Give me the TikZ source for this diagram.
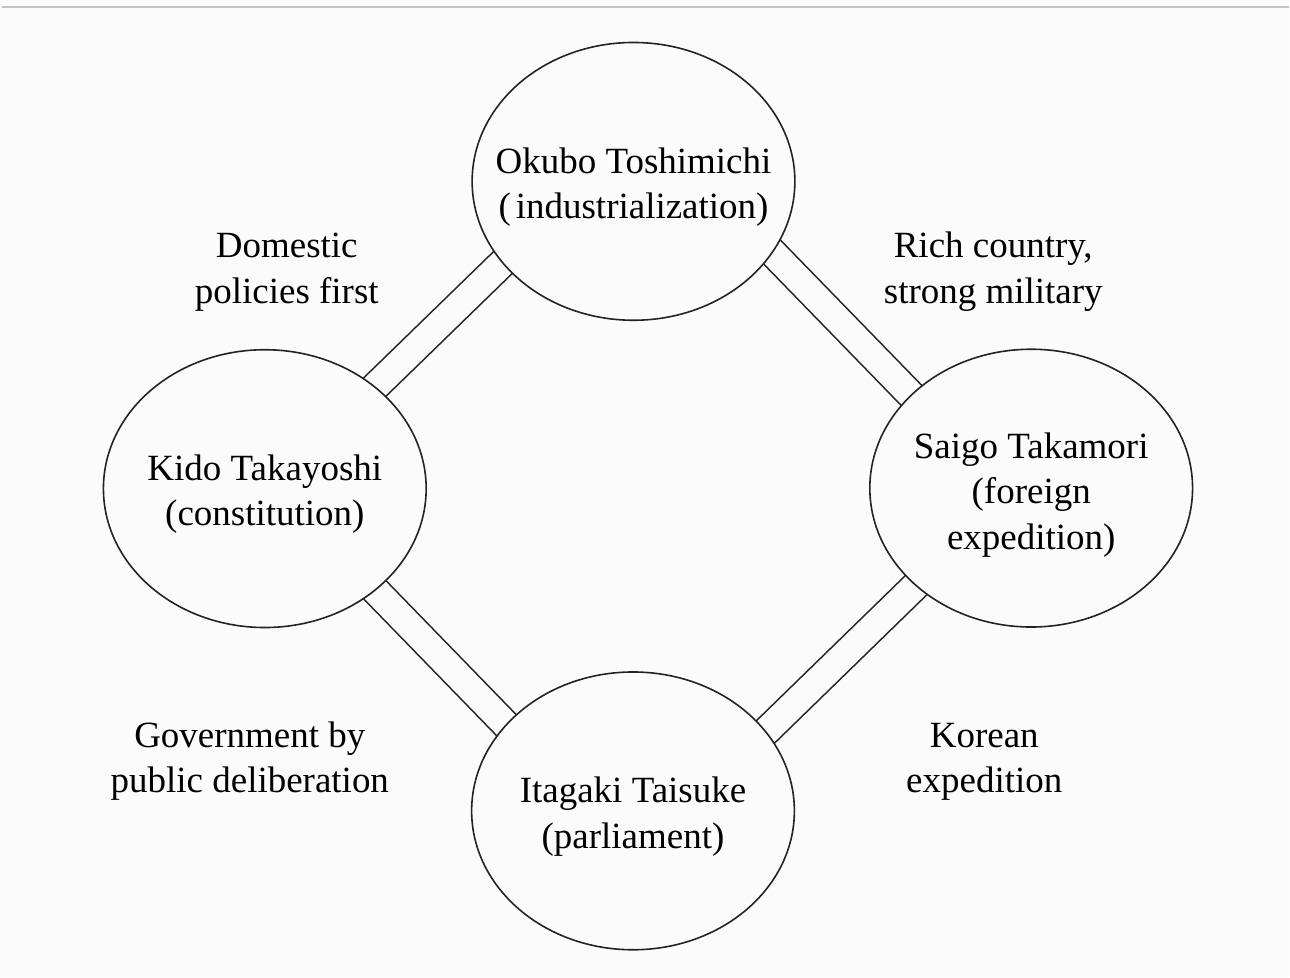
\documentclass[tikz,border=0pt]{standalone}
\usepackage{fontspec}
\setmainfont{Liberation Serif}
\usetikzlibrary{shapes.geometric,calc}
\pgfdeclarelayer{bg}
\pgfsetlayers{bg,main}
\definecolor{paper}{RGB}{251,251,251}
\definecolor{ink}{RGB}{35,35,35}
\definecolor{rulegray}{RGB}{196,196,196}
\newcommand{\mytop}[1]{\rule{0pt}{#1}}
\newcommand{\mybot}{\rule[-8pt]{0pt}{8pt}}
\begin{document}
\begin{tikzpicture}[x=1pt,y=-1pt,
  person/.style={ellipse, draw=ink, line width=1.6pt, fill=paper,
    minimum width=323pt, minimum height=278pt,
    inner xsep=-120pt, inner ysep=-40pt, align=center,
    font=\fontsize{37}{45.5}\selectfont, text=black},
  note/.style={align=center, inner sep=0pt,
    font=\fontsize{37}{45.5}\selectfont, text=black},
  bond/.style={draw=ink, line width=1.6pt, double=paper, double distance=27pt}]
\begin{pgfonlayer}{bg}
\fill[paper] (0,0) rectangle (1290,978);
\draw[rulegray, line width=2pt] (2,6.8) -- (1290,6.8);
\end{pgfonlayer}
\useasboundingbox (0,0) rectangle (1290,978);

\node[person] (okubo) at (634,181.5)
  {\mytop{37pt}Okubo Toshimichi\\(\hspace{5pt}industrialization)\mybot};
\node[person] (kido) at (265,489)
  {\mytop{37pt}Kido Takayoshi\\(constitution)\mybot};
\node[person] (saigo) at (1032,488.5)
  {\mytop{39pt}Saigo Takamori\\(foreign\\expedition)\mybot};
\node[person] (itagaki) at (633.5,811.5)
  {\mytop{37pt}Itagaki Taisuke\\(parliament)\mybot};

\node[note] (domestic) at (287,272)
  {\mytop{25pt}Domestic\\policies first\mybot};
\node[note] (rich) at (994,272)
  {\mytop{25pt}Rich country,\\strong military\mybot};
\node[note] (govt) at (250,762)
  {\mytop{25pt}Government by\\public deliberation\mybot};
\node[note] (korean) at (985,762)
  {\mytop{25pt}Korean\\expedition\mybot};

\begin{pgfonlayer}{bg}
\coordinate (tlA) at ($(kido.center)+(88.5,-80.6)$);
\coordinate (tlB) at ($(okubo.center)+(-110,61.1)$);
\coordinate (trA) at ($(okubo.center)+(118,49.5)$);
\coordinate (trB) at ($(saigo.center)+(-98.6,-71)$);
\coordinate (blA) at ($(kido.center)+(89,79.5)$);
\coordinate (blB) at ($(itagaki.center)+(-105.5,-64)$);
\coordinate (brA) at ($(saigo.center)+(-94,76.5)$);
\coordinate (brB) at ($(itagaki.center)+(112,-59)$);
\path[bond] (tlA) -- (tlB);
\path[bond] (trA) -- (trB);
\path[bond] (blA) -- (blB);
\path[bond] (brA) -- (brB);
\end{pgfonlayer}
\end{tikzpicture}
\end{document}
